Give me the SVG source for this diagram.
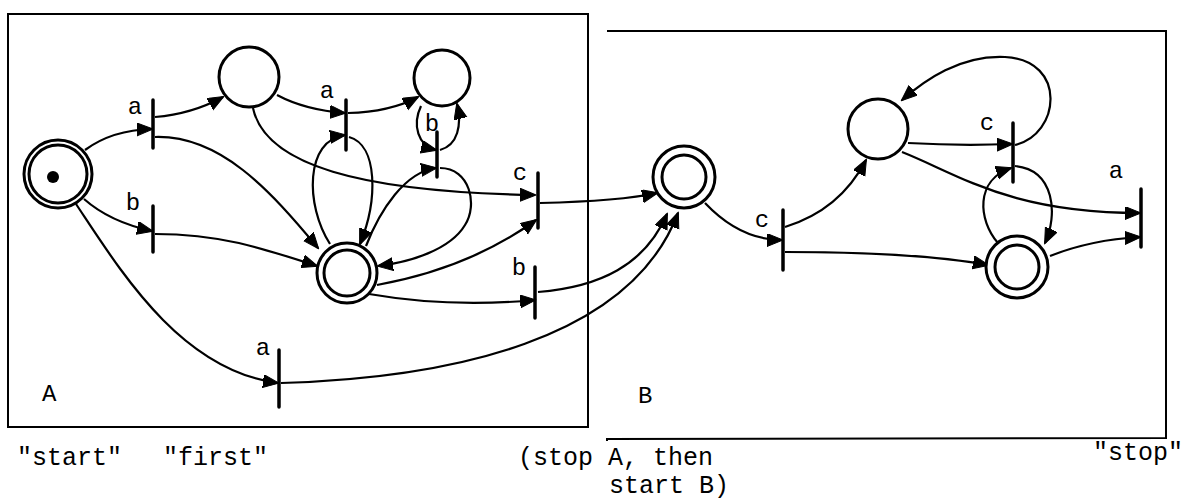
<svg xmlns="http://www.w3.org/2000/svg" width="1190" height="501" viewBox="0 0 1190 501">
<style>
.box{fill:none;stroke:#000;stroke-width:2}
.st{fill:#fff;stroke:#000;stroke-width:3}
.bar{stroke:#000;stroke-width:3.5;stroke-linecap:round}
.ea{fill:none;stroke:#000;stroke-width:2.2;marker-end:url(#ah)}
.lb{font-family:"Liberation Mono",monospace;font-size:24px;fill:#000;text-anchor:middle}
.tx{font-family:"Liberation Mono",monospace;font-size:25px;fill:#000}
</style>
<defs>
<marker id="ah" markerUnits="userSpaceOnUse" markerWidth="18" markerHeight="14" refX="15" refY="6.5" orient="auto">
<path d="M0,0 L16,6.5 L0,13 z" fill="#000" stroke="#000" stroke-width="1" stroke-linejoin="round"/>
</marker>
</defs>
<rect width="1190" height="501" fill="#fff"/>
<g id="boxes">
<path class="box" d="M8,14 L588,14 L588,427 L8,427 Z"/>
<path class="box" d="M607,31 L1166,31 L1166,438 L607,439 L607,441"/>
</g>
<g id="connectors">
<path class="ea" d="M85,150 Q112,130 152,129"/>
<path class="ea" d="M155,117 Q192,114 223,97"/>
<path class="ea" d="M155,137 C220,135 270,190 318,248"/>
<path class="ea" d="M84,199 Q110,222 152,231"/>
<path class="ea" d="M155,234 C220,234 262,248 317,266"/>
<path class="ea" d="M76,204 C120,270 180,370 278,383"/>
<path class="ea" d="M281,383 C450,378 630,340 678,213"/>
<path class="ea" d="M538,292 C600,287 645,265 667,214"/>
<path class="ea" d="M253,108 C265,165 360,192 535,195"/>
<path class="ea" d="M277,95 Q305,110 345,113"/>
<path class="ea" d="M348,113 Q390,112 418,97"/>
<path class="ea" d="M330,244 C305,205 305,140 345,135"/>
<path class="ea" d="M349,137 C378,145 378,200 360,244"/>
<path class="ea" d="M366,246 C380,210 405,172 436,168"/>
<path class="ea" d="M440,168 C470,168 478,205 465,225 C450,250 410,262 378,266"/>
<path class="ea" d="M421,106 C412,125 418,146 436,150"/>
<path class="ea" d="M440,150 C458,145 462,125 457,104"/>
<path class="ea" d="M377,285 Q470,268 536,220"/>
<path class="ea" d="M369,294 Q450,308 535,300"/>
<path class="ea" d="M540,203 C580,202 625,200 657,193"/>
<path class="ea" d="M705,203 Q740,240 782,240"/>
<path class="ea" d="M785,227 Q840,210 866,160"/>
<path class="ea" d="M785,252 C880,252 950,258 988,265"/>
<path class="ea" d="M908,143 Q960,146 1012,144"/>
<path class="ea" d="M1015,145 C1060,135 1068,60 1005,57 C960,55 925,80 902,100"/>
<path class="ea" d="M902,152 C960,175 1010,213 1140,213"/>
<path class="ea" d="M998,243 C978,220 975,180 1011,168"/>
<path class="ea" d="M1015,166 C1055,170 1058,215 1045,243"/>
<path class="ea" d="M1050,256 Q1090,240 1140,237"/>
</g>
<g id="start"><circle class="st" cx="58" cy="174" r="34"/><circle class="st" cx="58" cy="174" r="29"/><circle cx="53" cy="177" r="6" fill="#000"/></g>
<g id="q1"><circle class="st" cx="249" cy="77" r="30"/></g>
<g id="q2"><circle class="st" cx="442" cy="78" r="28"/></g>
<g id="q3"><circle class="st" cx="347" cy="273" r="30"/><circle class="st" cx="347" cy="273" r="23"/></g>
<g id="q4"><circle class="st" cx="684" cy="177" r="31"/><circle class="st" cx="684" cy="177" r="22"/></g>
<g id="q5"><circle class="st" cx="878" cy="129" r="30"/></g>
<g id="q6"><circle class="st" cx="1017" cy="267" r="31"/><circle class="st" cx="1017" cy="267" r="22"/></g>
<g id="t_a1"><line class="bar" x1="153" y1="100" x2="153" y2="148"/><text class="lb" x="135" y="114">a</text></g>
<g id="t_b1"><line class="bar" x1="153" y1="206" x2="153" y2="252"/><text class="lb" x="133" y="210">b</text></g>
<g id="t_a2"><line class="bar" x1="279" y1="350" x2="279" y2="407"/><text class="lb" x="263" y="355">a</text></g>
<g id="t_a3"><line class="bar" x1="346" y1="100" x2="346" y2="150"/><text class="lb" x="327" y="98">a</text></g>
<g id="t_b2"><line class="bar" x1="437" y1="132" x2="437" y2="177"/><text class="lb" x="432" y="131">b</text></g>
<g id="t_c1"><line class="bar" x1="538" y1="173" x2="538" y2="228"/><text class="lb" x="520" y="180">c</text></g>
<g id="t_b3"><line class="bar" x1="535" y1="267" x2="535" y2="318"/><text class="lb" x="519" y="275">b</text></g>
<g id="t_c2"><line class="bar" x1="783" y1="210" x2="783" y2="270"/><text class="lb" x="762" y="227">c</text></g>
<g id="t_c3"><line class="bar" x1="1013" y1="123" x2="1013" y2="182"/><text class="lb" x="987" y="130">c</text></g>
<g id="t_a4"><line class="bar" x1="1141" y1="189" x2="1141" y2="247"/><text class="lb" x="1116" y="178">a</text></g>
<g id="labels">
<text class="tx" x="42" y="401" style="font-size:24px">A</text>
<text class="tx" x="638" y="403" style="font-size:24px">B</text>
<text class="tx" x="17" y="465">"start"</text>
<text class="tx" x="163" y="465">"first"</text>
<text class="tx" x="518" y="465" xml:space="preserve">(stop A, then</text>
<text class="tx" x="609" y="493">start B)</text>
<text class="tx" x="1093" y="460">"stop"</text>
</g>
</svg>
